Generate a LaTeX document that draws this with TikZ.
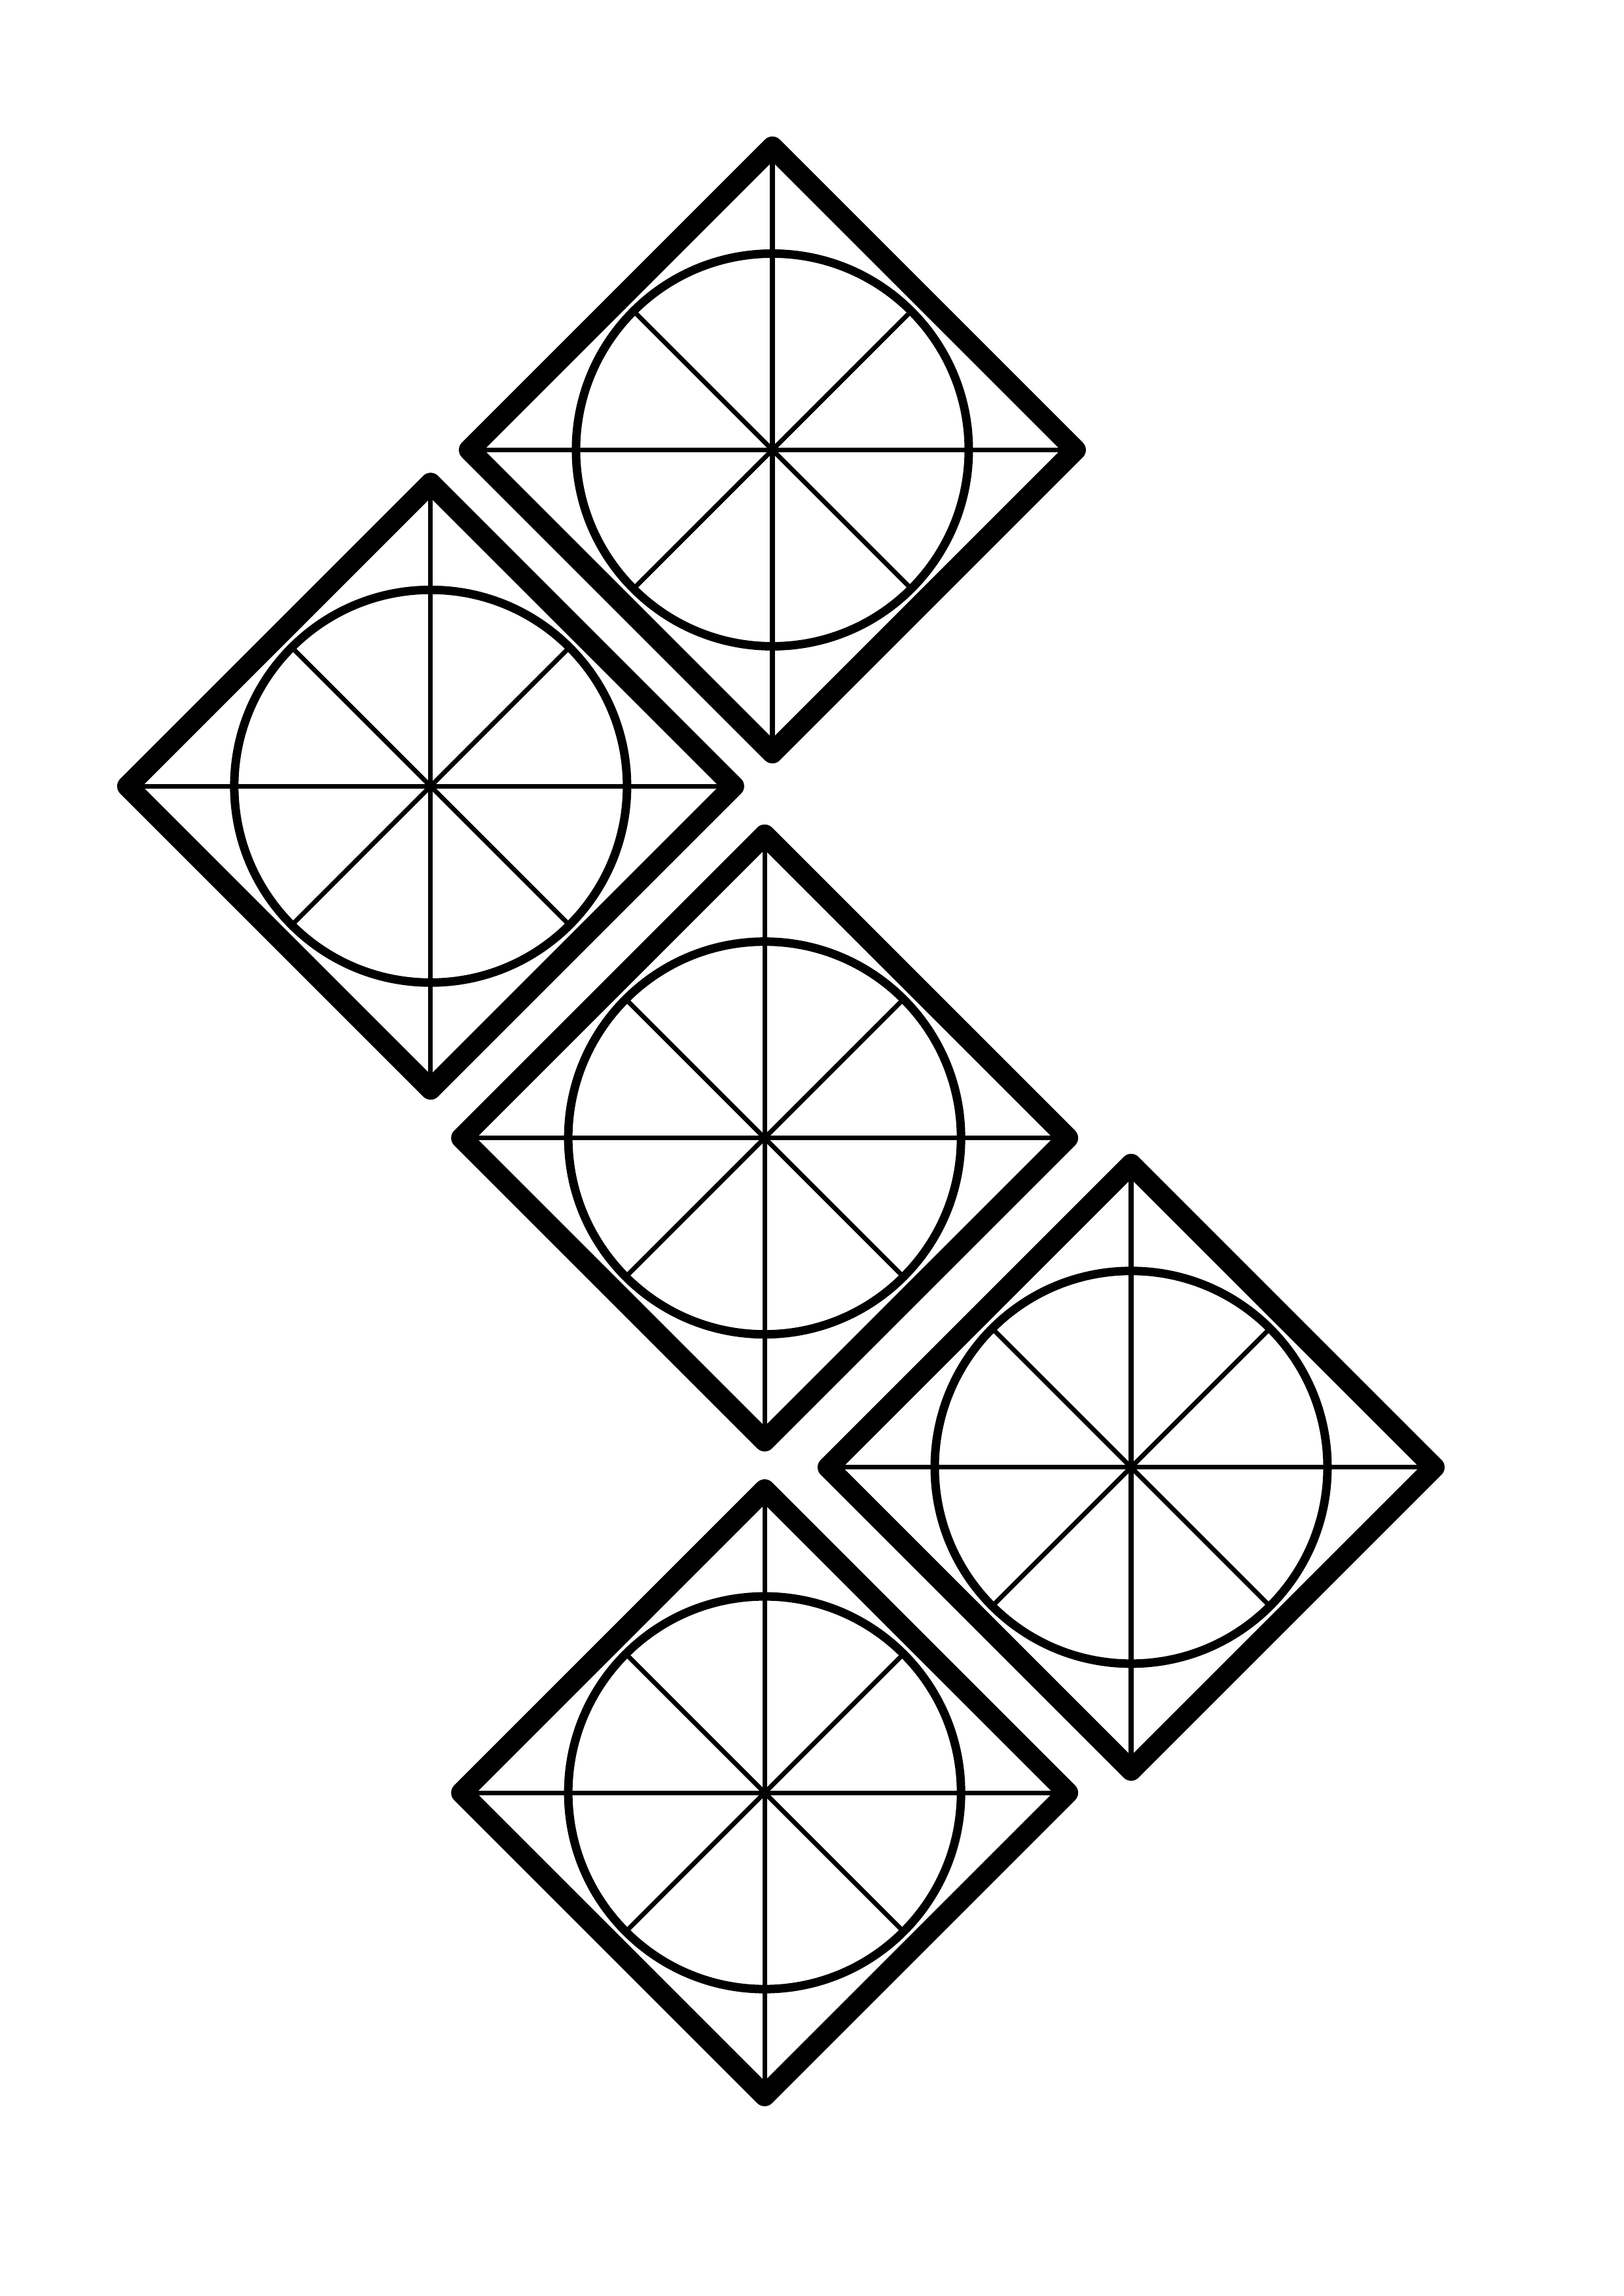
\documentclass[tikz,border=0pt]{standalone}
\tikzset{
  frame/.style={line width=2.7mm, line join=round, line cap=round},
  rim/.style={line width=1.1mm},
  spoke/.style={line width=0.6mm}
}
\begin{document}
\begin{tikzpicture}[x=1mm,y=1mm]
\useasboundingbox (0,0) rectangle (210,-297);
\foreach \cx/\cy in {99.9/-58.2, 55.7/-101.7, 98.9/-147.2, 146.3/-189.8, 98.9/-231.9}
{
\begin{scope}[shift={(\cx,\cy)}]
\draw[frame] (0,39.2) -- (39.2,0) -- (0,-39.2) -- (-39.2,0) -- cycle;
\draw[rim] (0,0) circle (25.4);
\draw[spoke] (0,39.2) -- (0,-39.2);
\draw[spoke] (-39.2,0) -- (39.2,0);
\draw[spoke] (45:25.4) -- (225:25.4);
\draw[spoke] (135:25.4) -- (315:25.4);
\end{scope}
}
\end{tikzpicture}
\end{document}
